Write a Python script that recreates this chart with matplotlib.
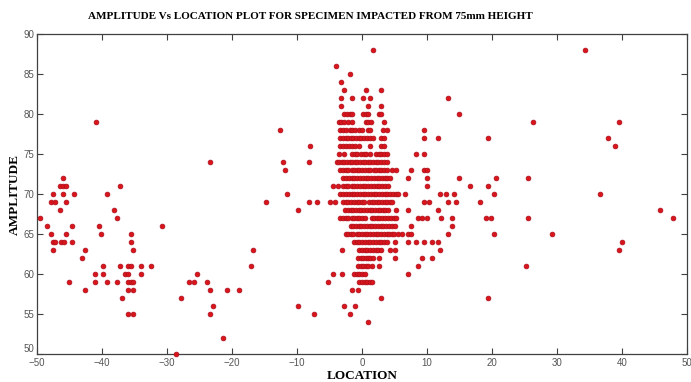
import numpy as np
import matplotlib
matplotlib.use("Agg")
import matplotlib.pyplot as plt

# Hit locations (mm) grouped by recorded amplitude (dB)
loc_88 = [1.7, 34.3]
loc_86 = [-4.0]
loc_85 = [-1.9]
loc_84 = [-3.2]
loc_83 = [-2.7, 0.6, 3.0]
loc_82 = [-3.2, -1.5, 0.1, 1.3, 13.3]
loc_81 = [-3.2, 1.0, 3.0]
loc_80 = [-2.7, -2.3, -1.9, -1.5, 0.2, 0.6, 1.0, 2.6, 3.0, 14.9]
loc_79 = [-40.9, -3.6, -3.2, -2.8, -2.1, -1.5, 0.6, 1.0, 1.4, 3.4, 26.4, 39.6]
loc_78 = [-12.6, -3.3, -2.9, -2.4, -1.9, -1.5, -1.0, -0.5, 0.0, 1.0, 1.3,
          3.3, 3.8, 9.6]
loc_77 = [-3.3, -2.9, -2.5, -2.1, -1.7, -1.3, -0.9, -0.5, -0.1, 0.3, 0.8,
          1.2, 1.7, 3.0, 3.4, 9.6, 11.7, 19.4, 37.9]
loc_76 = [-8.0, -3.3, -2.9, -2.4, -2.0, -1.5, -1.0, -0.5, 1.3, 3.0, 3.4, 38.9]
loc_75 = [-3.6, -2.7, -1.5, -1.1, -0.7, -0.2, 0.3, 0.7, 1.2, 2.1, 2.6, 3.0,
          3.4, 3.8, 8.3, 9.6]
loc_74 = [-23.3, -12.2, -8.1, -3.9, -3.5, -3.1, -2.7, -2.3, -1.9, -1.5, -1.1,
          -0.7, -0.3, 0.1, 0.5, 0.9, 1.3, 1.7, 2.1, 2.5, 2.9, 3.4, 3.8]
loc_73 = [-11.8, -3.3, -2.9, -2.5, -2.1, -1.6, -1.2, -0.8, -0.4, 0.0, 0.5,
          0.9, 1.3, 1.8, 2.2, 2.6, 3.0, 3.4, 3.8, 4.6, 5.2, 7.5, 9.6, 10.0]
loc_72 = [-46.0, -2.9, -2.5, -2.0, -1.6, -1.2, -0.7, -0.3, 0.1, 0.6, 1.0,
          1.4, 1.9, 2.3, 2.7, 3.1, 3.5, 3.9, 4.3, 7.1, 10.0, 14.9, 20.7, 25.6]
loc_71 = [-46.4, -46.0, -45.6, -37.3, -4.4, -3.7, -2.9, -2.5, -2.1, -1.6,
          -1.2, -0.8, -0.3, 0.1, 0.5, 1.0, 1.4, 1.8, 2.3, 2.7, 3.1, 3.6, 4.0,
          10.0, 16.6, 19.4]
loc_70 = [-47.6, -46.0, -44.3, -39.3, -11.5, -3.3, -2.9, -2.5, -2.0, -1.6,
          -1.2, -0.8, -0.3, 0.1, 0.5, 1.0, 1.4, 1.8, 2.2, 2.7, 3.1, 3.5, 3.9,
          4.3, 4.8, 5.2, 5.6, 6.6, 12.0, 12.9, 14.1, 20.3, 36.7]
loc_69 = [-47.9, -47.2, -45.6, -14.7, -8.1, -6.9, -4.9, -4.1, -2.9, -2.5,
          -2.1, -1.7, -1.2, -0.8, -0.4, 0.0, 0.3, 1.1, 1.5, 1.9, 2.3, 2.7,
          3.1, 3.5, 3.9, 4.3, 4.7, 9.6, 10.4, 13.3, 14.5, 18.2]
loc_68 = [-46.4, -38.1, -9.8, -2.6, -2.2, -1.7, -1.3, -0.9, -0.5, -0.1, 0.3,
          0.8, 1.2, 1.6, 2.0, 2.4, 2.8, 3.2, 3.6, 4.0, 5.3, 7.1, 11.7, 45.8]
loc_67 = [-49.6, -37.7, -3.3, -2.9, -2.5, -2.1, -1.6, -1.2, -0.8, -0.4, 0.0,
          0.5, 1.5, 1.9, 2.3, 2.7, 3.1, 3.6, 4.0, 4.4, 4.9, 5.3, 8.7, 9.2,
          10.0, 12.1, 13.8, 19.1, 19.9, 25.6, 47.9]
loc_66 = [-48.4, -44.6, -40.4, -30.7, -1.7, -1.3, -0.9, -0.5, -0.1, 0.3, 0.8,
          1.2, 1.6, 2.0, 2.5, 2.9, 3.3, 3.7, 4.2, 4.6, 5.1, 7.5, 13.8]
loc_65 = [-47.9, -45.6, -40.2, -35.6, -2.5, -2.1, -1.7, -1.3, -0.8, -0.4,
          0.0, 0.4, 0.8, 1.3, 1.7, 2.1, 2.5, 2.9, 3.4, 3.8, 4.2, 4.6, 5.0,
          5.5, 6.1, 7.1, 7.6, 13.3, 20.3, 29.3]
loc_64 = [-47.6, -47.2, -46.3, -45.9, -44.6, -35.6, -1.2, -0.8, -0.4, 0.0,
          0.5, 0.9, 1.3, 1.7, 2.1, 2.6, 3.0, 3.4, 3.8, 5.1, 7.1, 8.3, 9.6,
          10.8, 11.7, 40.0]
loc_63 = [-47.6, -42.6, -35.2, -16.8, -3.1, -0.4, 0.0, 0.4, 0.8, 1.2, 1.7,
          2.1, 2.5, 3.0, 4.3, 5.1, 12.0, 39.6]
loc_62 = [-43.1, -0.6, -0.2, 0.2, 0.6, 1.0, 1.3, 1.7, 2.7, 5.1, 9.2, 10.8]
loc_61 = [-39.8, -37.3, -36.0, -35.6, -34.0, -32.4, -17.1, -0.6, -0.2, 0.2,
          0.6, 1.0, 1.5, 2.7, 8.7, 25.2]
loc_60 = [-41.0, -39.8, -36.4, -36.0, -34.0, -25.4, -4.4, -3.1, -1.2, -0.8,
          -0.4, 0.0, 0.4, 7.1]
loc_59 = [-45.1, -41.0, -39.3, -37.7, -36.0, -35.6, -35.2, -26.6, -25.8,
          -23.8, -5.2, -0.4, 0.0, 0.4, 0.8, 1.2, 1.5]
loc_58 = [-42.6, -36.0, -35.2, -23.3, -20.8, -18.9, -1.5, -0.6]
loc_57 = [-36.9, -27.9, 3.0, 19.4]
loc_56 = [-22.9, -9.8, -2.7, -1.1]
loc_55 = [-36.0, -35.2, -23.3, -7.3, -1.9]
loc_54 = [1.0]
loc_52 = [-21.3]
loc_50 = [-28.6]

amplitudes = [88, 86, 85, 84, 83, 82, 81, 80, 79, 78, 77, 76, 75, 74, 73, 72,
              71, 70, 69, 68, 67, 66, 65, 64, 63, 62, 61, 60, 59, 58, 57, 56,
              55, 54, 52, 50]
locations = [loc_88, loc_86, loc_85, loc_84, loc_83, loc_82, loc_81, loc_80,
             loc_79, loc_78, loc_77, loc_76, loc_75, loc_74, loc_73, loc_72,
             loc_71, loc_70, loc_69, loc_68, loc_67, loc_66, loc_65, loc_64,
             loc_63, loc_62, loc_61, loc_60, loc_59, loc_58, loc_57, loc_56,
             loc_55, loc_54, loc_52, loc_50]

x = np.concatenate([np.asarray(l, dtype=float) for l in locations])
y = np.concatenate([np.full(len(l), a, dtype=float)
                    for a, l in zip(amplitudes, locations)])

fig = plt.figure(figsize=(6.91, 3.82), dpi=100)
ax = fig.add_axes([0.0535, 0.073, 0.9405, 0.838])

ax.scatter(x, y, s=12, facecolor="#d8141c", edgecolor="#b0101a",
           linewidths=0.5, zorder=3, clip_on=False)

ax.set_xlim(-50, 50)
ax.set_ylim(50, 90)
ax.set_xticks(np.arange(-50, 51, 10))
ax.set_yticks(np.arange(50, 91, 5))

for s in ax.spines.values():
    s.set_color("#404040")
    s.set_linewidth(0.9)
ax.tick_params(direction="in", length=4, width=0.8, color="#404040",
               top=True, right=True, labelsize=7, labelcolor="#555555")
ax.tick_params(axis="x", pad=3)
ax.tick_params(axis="y", pad=2)
for lab in ax.get_xticklabels() + ax.get_yticklabels():
    lab.set_fontfamily("Liberation Sans")
# lift the bottom y label a touch so it clears the corner x label
ax.get_yticklabels()[0].set_verticalalignment("bottom")

fig.text(0.449, 0.958,
         "AMPLITUDE Vs LOCATION PLOT FOR SPECIMEN IMPACTED FROM 75mm HEIGHT",
         ha="center", va="center", fontsize=8, fontweight="bold",
         family="Liberation Serif")
ax.set_xlabel("LOCATION", fontsize=9.5, fontweight="bold",
              family="Liberation Serif", labelpad=1)
ax.set_ylabel("AMPLITUDE", fontsize=9.5, fontweight="bold",
              family="Liberation Serif", labelpad=2)

fig.savefig("out.png", dpi=100)
